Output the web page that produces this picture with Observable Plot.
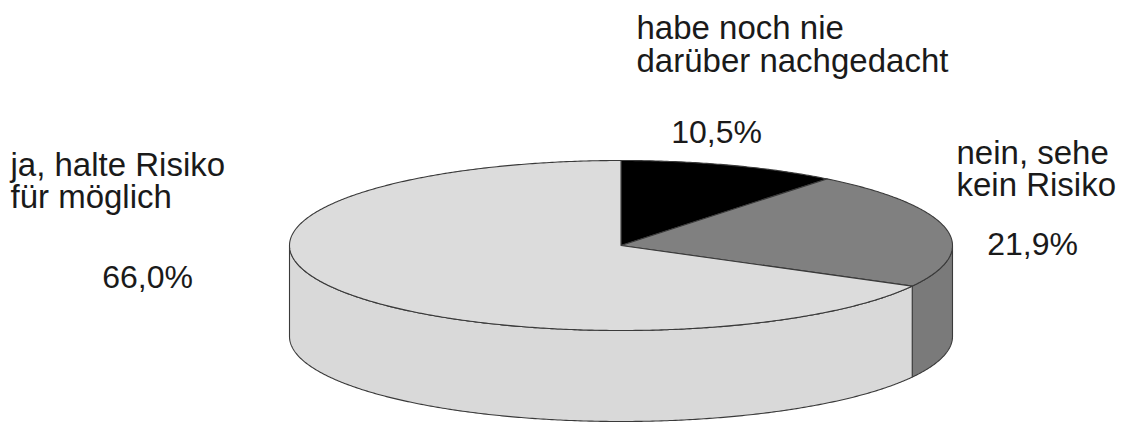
<!DOCTYPE html>
<html>
<head>
<meta charset="utf-8">
<script src="https://cdn.jsdelivr.net/npm/d3@7"></script>
<script src="https://cdn.jsdelivr.net/npm/@observablehq/plot@0.6"></script>
<style>
  html, body { margin: 0; padding: 0; background: #fff; }
  #chart svg { display: block; }
</style>
</head>
<body>
<div id="chart"></div>
<script>
// ---- data ----
const categories = ["habe noch nie\ndarüber nachgedacht", "nein, sehe\nkein Risiko", "ja, halte Risiko\nfür möglich"];
const values = [10.5, 21.9, 66.0];
const topColors = ["#000000", "#808080", "#dcdcdc"];
const sideColors = ["#000000", "#7a7a7a", "#d9d9d9"];

// ---- layout (pixels) ----
const W = 1123, H = 423;
const cx = 620.5, cy = 245, rx = 331.5, ry = 85, depth = 91;
// label anchors: [x, baseline of last line, anchor]
const nameLayout = [[636, 71, "start"], [956, 195, "start"], [10, 207, "start"]];
const pctLayout = [[716, 142], [1032, 254], [147, 287]];
const lineHeights = [1.0, 0.97, 0.94];

const fmt = v => d3.format(".1f")(v).replace(".", ",") + "%";

const arcs = d3.pie().sort(null).value(d => d)(values);
const P = t => ({x: cx + rx * Math.sin(t), y: cy - ry * Math.cos(t)});
const stepped = (a0, a1) => {
  const n = Math.max(2, Math.ceil((a1 - a0) / (Math.PI / 360)));
  return d3.range(n + 1).map(i => a0 + (a1 - a0) * i / n);
};

const tops = [], walls = [];
arcs.forEach((a, i) => {
  tops.push({slice: i, x: cx, y: cy, color: topColors[i]});
  for (const t of stepped(a.startAngle, a.endAngle)) tops.push({slice: i, ...P(t), color: topColors[i]});
  const w0 = Math.max(a.startAngle, Math.PI / 2), w1 = Math.min(a.endAngle, 3 * Math.PI / 2);
  if (w1 > w0) {
    const ts = stepped(w0, w1);
    for (const t of ts) walls.push({slice: i, ...P(t), color: sideColors[i]});
    for (const t of ts.slice().reverse()) { const p = P(t); walls.push({slice: i, x: p.x, y: p.y + depth, color: sideColors[i]}); }
  }
});

const names = categories.map((c, i) => ({text: c, x: nameLayout[i][0], y: nameLayout[i][1], anchor: nameLayout[i][2], lh: lineHeights[i]}));
const pcts = values.map((v, i) => ({text: fmt(v), x: pctLayout[i][0], y: pctLayout[i][1]}));

const textOpts = {fill: "#1a1a1a", lineAnchor: "bottom", fontFamily: "'Liberation Sans', Arial, sans-serif"};

const chart = Plot.plot({
  width: W, height: H,
  margin: 0,
  x: {domain: [0, W], range: [0, W], axis: null},
  y: {domain: [0, H], range: [0, H], axis: null},
  color: {type: "identity"},
  style: {fontFamily: "'Liberation Sans', Arial, sans-serif", background: "#fff"},
  marks: [
    Plot.line(walls, {x: "x", y: "y", z: "slice", fill: "color", stroke: "#3a3a3a", strokeWidth: 1.1, curve: "linear-closed"}),
    Plot.line(tops, {x: "x", y: "y", z: "slice", fill: "color", stroke: "#3a3a3a", strokeWidth: 1.1, curve: "linear-closed"}),
    ...names.map(d => Plot.text([d], {x: "x", y: "y", text: "text", textAnchor: d.anchor, lineHeight: d.lh, fontSize: 33, ...textOpts})),
    Plot.text(pcts, {x: "x", y: "y", text: "text", textAnchor: "middle", fontSize: 32, ...textOpts})
  ]
});
document.getElementById("chart").appendChild(chart);
</script>
</body>
</html>
